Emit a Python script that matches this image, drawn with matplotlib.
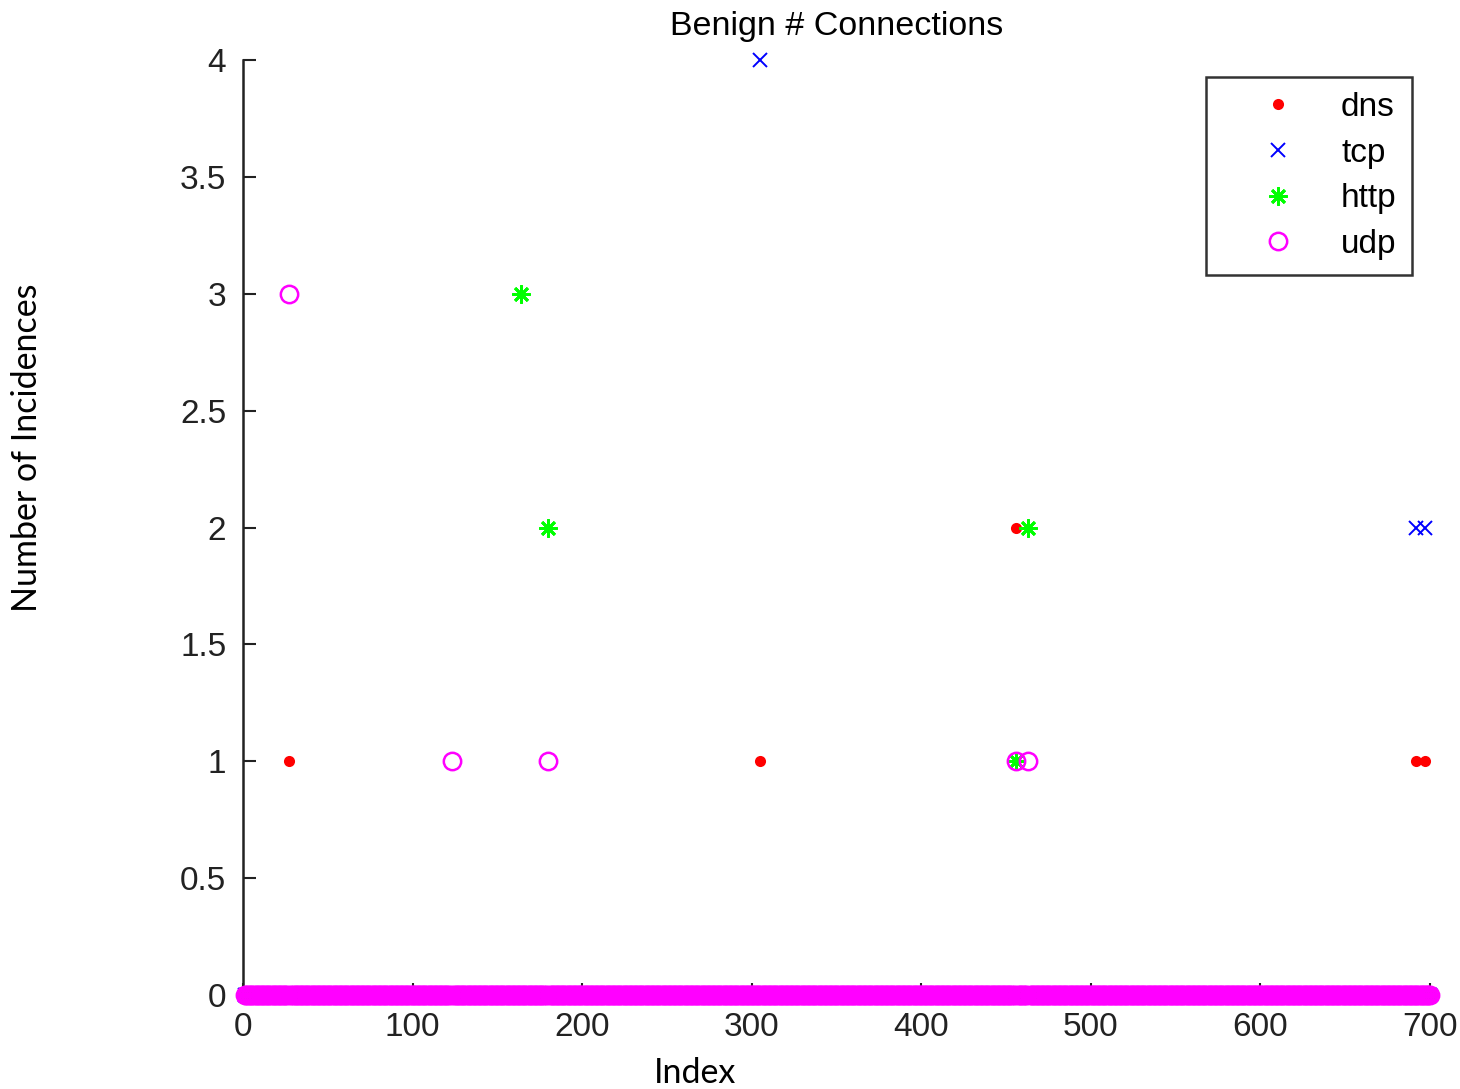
import numpy as np
import matplotlib
matplotlib.use("Agg")
import matplotlib.pyplot as plt

N = 700
index = np.arange(1, N + 1)

dns_idx = [27, 305, 456, 692, 697]
dns_val = [1, 1, 2, 1, 1]
tcp_idx = [305, 692, 697]
tcp_val = [4, 2, 2]
http_idx = [164, 180, 456, 463]
http_val = [3, 2, 1, 2]
udp_idx = [27, 123, 180, 456, 463]
udp_val = [3, 1, 1, 1, 1]

x_ticks = [0, 100, 200, 300, 400, 500, 600, 700]
y_ticks = [0, 0.5, 1, 1.5, 2, 2.5, 3, 3.5, 4]
y_tick_labels = ["0", "0.5", "1", "1.5", "2", "2.5", "3", "3.5", "4"]


def series(idx, val):
    arr = np.zeros(N)
    for i, v in zip(idx, val):
        arr[i - 1] = v
    return arr


dns = series(dns_idx, dns_val)
tcp = series(tcp_idx, tcp_val)
http = series(http_idx, http_val)
udp = series(udp_idx, udp_val)

fig = plt.figure(figsize=(14.6, 10.89), dpi=100)
ax = fig.add_axes([243 / 1460, 1 - 995 / 1089, (1430 - 243) / 1460, (995 - 60) / 1089])

tick_font = dict(family=["Liberation Sans", "DejaVu Sans"], size=24)

ax.plot(index, dns, linestyle="none", marker="o", color=(1, 0, 0), ms=8, mew=0, label="dns")
ax.plot(index, tcp, linestyle="none", marker="x", color=(0, 0, 1), ms=10, mew=1.4, label="tcp")
ax.plot(index, http, linestyle="none", marker=(8, 2, 0), color=(0, 1, 0), ms=13, mew=2.0, label="http")
ax.plot(index, udp, linestyle="none", marker="o", mfc="none", mec=(1, 0, 1), ms=12.5, mew=1.8, label="udp")

ax.set_xlim(0, 700)
ax.set_ylim(0, 4)
ax.set_xticks(x_ticks)
ax.set_xticklabels([str(t) for t in x_ticks], fontdict=tick_font)
ax.set_yticks(y_ticks)
ax.set_yticklabels(y_tick_labels, fontdict=tick_font)
ax.tick_params(direction="in", length=9, width=1.5, colors="#222222", pad=12)
for s in ["top", "right"]:
    ax.spines[s].set_visible(False)
for s in ["left", "bottom"]:
    ax.spines[s].set_linewidth(1.8)
    ax.spines[s].set_color("#222222")
for ln in ax.lines:
    ln.set_clip_on(False)
    ln.set_zorder(3)

ax.set_title("Benign # Connections", fontdict=dict(family=["Liberation Sans", "DejaVu Sans"], size=24.5), pad=18)

leg = ax.legend(loc="upper left", bbox_to_anchor=((1206 - 243) / (1430 - 243), 1 - (77 - 60) / (995 - 60)),
                prop=dict(family=["Liberation Sans", "DejaVu Sans"], size=24), frameon=True, fancybox=False,
                edgecolor="black", handletextpad=0.18, handlelength=3.42, borderpad=0.45, labelspacing=0.44,
                borderaxespad=0, markerfirst=True)
leg.get_frame().set_linewidth(1.8)
leg.set_zorder(5)

fig.text(27 / 1460, 1 - 448 / 1089, "Number of Incidences", rotation=90, ha="center", va="center",
         family=["Lato", "DejaVu Sans"], size=24.5)
fig.text(695 / 1460, 1 - 1073 / 1089, "Index", ha="center", va="center",
         family=["Lato", "DejaVu Sans"], size=24.5)

fig.savefig("out.png", dpi=100)
